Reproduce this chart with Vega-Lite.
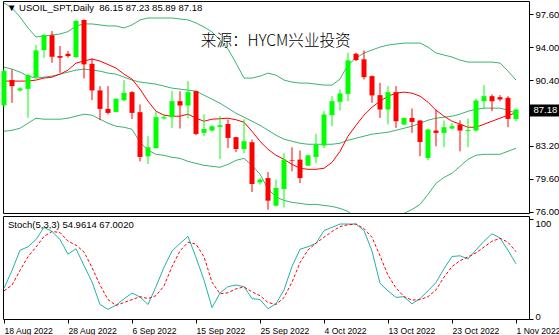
{
  "$schema": "https://vega.github.io/schema/vega-lite/v6.json",
  "padding": 0,
  "background": "#ffffff",
  "spacing": 3,
  "bounds": "flush",
  "title": {"text": "来源：HYCM兴业投资", "anchor": "middle", "frame": "bounds", "offset": -61, "baseline": "alphabetic", "dx": -8, "font": "Noto Sans CJK SC", "fontSize": 15.6, "fontWeight": 300, "color": "#000000"},
  "config": {
    "view": {"stroke": "#000000", "strokeWidth": 1},
    "axis": {"labelFont": "Liberation Sans", "labelFontSize": 9.5, "labelColor": "#000000", "tickColor": "#000000", "domain": false, "grid": false, "title": null, "labelOverlap": false},
    "title": {"font": "Liberation Sans", "fontSize": 9.5, "fontWeight": "normal", "color": "#000000", "anchor": "start", "frame": "group", "baseline": "alphabetic"}
  },
  "data": {"values": [
    {"d":"18 Aug 2022","i":0,"o":87.65,"h":91.6,"l":87.4,"c":91.38,"up":98.84,"mid":91.82,"lo":84.8,"ma":90.29,"k":30.6,"sig":28.0},
    {"d":"19 Aug 2022","i":1,"o":90.4,"h":91.57,"l":87.9,"c":89.74,"up":98.29,"mid":91.6,"lo":84.91,"ma":90.29,"k":48.3,"sig":33.8},
    {"d":"21 Aug 2022","i":2,"o":89.27,"h":89.63,"l":89.11,"c":89.49,"up":97.3,"mid":91.27,"lo":85.13,"ma":90.29,"k":68.4,"sig":48.3},
    {"d":"22 Aug 2022","i":3,"o":89.44,"h":91.09,"l":86.26,"c":90.94,"up":96.1,"mid":90.83,"lo":85.68,"ma":90.29,"k":71.9,"sig":61.9},
    {"d":"23 Aug 2022","i":4,"o":90.72,"h":94.23,"l":90.65,"c":93.65,"up":95.11,"mid":90.62,"lo":86.23,"ma":90.4,"k":79.0,"sig":71.6},
    {"d":"24 Aug 2022","i":5,"o":93.69,"h":95.47,"l":92.84,"c":95.33,"up":95.22,"mid":90.72,"lo":86.12,"ma":90.62,"k":91.2,"sig":82.2},
    {"d":"25 Aug 2022","i":6,"o":95.3,"h":95.77,"l":92.29,"c":92.95,"up":95.33,"mid":90.83,"lo":86.12,"ma":90.72,"k":87.1,"sig":87.1},
    {"d":"26 Aug 2022","i":7,"o":93.03,"h":94.12,"l":91.2,"c":92.84,"up":95.44,"mid":91.05,"lo":86.12,"ma":91.05,"k":79.0,"sig":86.1},
    {"d":"28 Aug 2022","i":8,"o":93.28,"h":93.58,"l":92.84,"c":93.03,"up":95.7,"mid":91.27,"lo":86.23,"ma":91.49,"k":64.5,"sig":77.4},
    {"d":"29 Aug 2022","i":9,"o":92.92,"h":96.97,"l":92.84,"c":96.87,"up":96.32,"mid":91.49,"lo":86.45,"ma":92.26,"k":69.9,"sig":73.5},
    {"d":"30 Aug 2022","i":10,"o":96.97,"h":97.05,"l":90.58,"c":92.12,"up":96.54,"mid":91.6,"lo":86.67,"ma":92.48,"k":53.2,"sig":66.7},
    {"d":"31 Aug 2022","i":11,"o":92.18,"h":92.78,"l":88.2,"c":89.27,"up":96.54,"mid":91.49,"lo":86.56,"ma":92.7,"k":37.0,"sig":51.2},
    {"d":"1 Sep 2022","i":12,"o":89.27,"h":89.74,"l":86.01,"c":87.25,"up":96.43,"mid":91.38,"lo":86.12,"ma":92.48,"k":14.5,"sig":33.8},
    {"d":"2 Sep 2022","i":13,"o":87.25,"h":89.74,"l":86.64,"c":86.81,"up":96.32,"mid":91.16,"lo":85.68,"ma":92.1,"k":9.6,"sig":19.3},
    {"d":"4 Sep 2022","i":14,"o":86.92,"h":88.39,"l":86.89,"c":88.35,"up":96.32,"mid":91.05,"lo":85.35,"ma":91.71,"k":13.8,"sig":13.5},
    {"d":"5 Sep 2022","i":15,"o":88.2,"h":90.4,"l":88.09,"c":89.0,"up":96.1,"mid":90.72,"lo":85.24,"ma":91.05,"k":20.0,"sig":16.4},
    {"d":"6 Sep 2022","i":16,"o":89.08,"h":89.19,"l":86.15,"c":86.81,"up":96.43,"mid":90.4,"lo":85.02,"ma":90.51,"k":25.8,"sig":19.3},
    {"d":"7 Sep 2022","i":17,"o":86.89,"h":87.73,"l":81.51,"c":81.99,"up":96.98,"mid":90.18,"lo":83.6,"ma":89.41,"k":21.9,"sig":22.2},
    {"d":"8 Sep 2022","i":18,"o":82.06,"h":84.26,"l":81.22,"c":83.05,"up":97.19,"mid":90.07,"lo":82.72,"ma":88.09,"k":14.5,"sig":20.3},
    {"d":"9 Sep 2022","i":19,"o":82.94,"h":87.0,"l":82.94,"c":86.34,"up":97.19,"mid":89.96,"lo":82.28,"ma":87.0,"k":32.2,"sig":23.2},
    {"d":"11 Sep 2022","i":20,"o":86.2,"h":86.7,"l":86.09,"c":86.34,"up":97.19,"mid":89.74,"lo":82.17,"ma":86.56,"k":51.5,"sig":32.9},
    {"d":"12 Sep 2022","i":21,"o":86.34,"h":89.19,"l":85.17,"c":88.09,"up":97.19,"mid":89.52,"lo":81.95,"ma":86.45,"k":67.7,"sig":52.2},
    {"d":"13 Sep 2022","i":22,"o":88.09,"h":89.19,"l":85.1,"c":87.62,"up":97.08,"mid":89.41,"lo":81.84,"ma":86.45,"k":75.2,"sig":67.7},
    {"d":"14 Sep 2022","i":23,"o":87.62,"h":90.29,"l":86.2,"c":89.08,"up":96.98,"mid":89.3,"lo":81.51,"ma":86.67,"k":82.2,"sig":76.4},
    {"d":"15 Sep 2022","i":24,"o":89.19,"h":89.24,"l":84.37,"c":84.51,"up":96.65,"mid":89.19,"lo":81.29,"ma":86.23,"k":61.2,"sig":74.5},
    {"d":"16 Sep 2022","i":25,"o":84.62,"h":86.64,"l":84.26,"c":85.06,"up":96.21,"mid":88.75,"lo":81.07,"ma":85.9,"k":38.7,"sig":61.9},
    {"d":"18 Sep 2022","i":26,"o":84.88,"h":85.46,"l":84.8,"c":85.35,"up":95.66,"mid":88.31,"lo":80.97,"ma":86.12,"k":11.3,"sig":36.7},
    {"d":"19 Sep 2022","i":27,"o":85.28,"h":86.45,"l":81.77,"c":85.46,"up":94.78,"mid":87.87,"lo":80.86,"ma":86.17,"k":25.8,"sig":25.1},
    {"d":"20 Sep 2022","i":28,"o":85.6,"h":86.09,"l":82.97,"c":84.07,"up":93.8,"mid":87.33,"lo":81.18,"ma":86.23,"k":32.2,"sig":26.1},
    {"d":"21 Sep 2022","i":29,"o":84.15,"h":84.2,"l":82.53,"c":82.86,"up":92.26,"mid":86.77,"lo":81.62,"ma":86.06,"k":33.8,"sig":30.0},
    {"d":"22 Sep 2022","i":30,"o":82.86,"h":86.09,"l":82.42,"c":83.71,"up":90.62,"mid":86.34,"lo":81.84,"ma":85.79,"k":32.2,"sig":31.9},
    {"d":"23 Sep 2022","i":31,"o":83.6,"h":83.89,"l":78.15,"c":79.03,"up":90.62,"mid":85.9,"lo":81.07,"ma":84.8,"k":20.3,"sig":27.0},
    {"d":"25 Sep 2022","i":32,"o":79.21,"h":79.68,"l":78.96,"c":79.51,"up":90.83,"mid":85.46,"lo":80.1,"ma":83.7,"k":19.3,"sig":23.2},
    {"d":"26 Sep 2022","i":33,"o":79.68,"h":80.34,"l":76.22,"c":77.21,"up":91.16,"mid":84.91,"lo":78.5,"ma":82.83,"k":10.3,"sig":16.4},
    {"d":"27 Sep 2022","i":34,"o":76.66,"h":79.51,"l":76.58,"c":78.59,"up":90.94,"mid":84.37,"lo":77.6,"ma":82.17,"k":15.1,"sig":14.5},
    {"d":"28 Sep 2022","i":35,"o":78.48,"h":82.42,"l":76.47,"c":81.7,"up":90.4,"mid":83.93,"lo":77.24,"ma":81.73,"k":29.0,"sig":21.3},
    {"d":"29 Sep 2022","i":36,"o":81.66,"h":83.05,"l":80.42,"c":81.59,"up":90.18,"mid":83.71,"lo":77.02,"ma":81.18,"k":52.2,"sig":36.7},
    {"d":"30 Sep 2022","i":37,"o":81.7,"h":82.69,"l":79.13,"c":79.68,"up":90.07,"mid":83.49,"lo":76.91,"ma":80.75,"k":69.4,"sig":56.1},
    {"d":"2 Oct 2022","i":38,"o":81.04,"h":82.2,"l":81.0,"c":82.17,"up":90.07,"mid":83.38,"lo":76.8,"ma":80.64,"k":71.9,"sig":68.7},
    {"d":"3 Oct 2022","i":39,"o":81.99,"h":84.51,"l":81.33,"c":83.35,"up":89.96,"mid":83.38,"lo":76.8,"ma":80.64,"k":75.2,"sig":75.5},
    {"d":"4 Oct 2022","i":40,"o":83.24,"h":87.0,"l":82.97,"c":86.64,"up":89.85,"mid":83.38,"lo":76.69,"ma":80.75,"k":88.0,"sig":81.3},
    {"d":"5 Oct 2022","i":41,"o":86.56,"h":88.64,"l":85.35,"c":88.09,"up":89.85,"mid":83.38,"lo":76.58,"ma":81.4,"k":91.2,"sig":87.1},
    {"d":"6 Oct 2022","i":42,"o":88.02,"h":89.38,"l":87.07,"c":88.94,"up":90.5,"mid":83.49,"lo":76.36,"ma":82.6,"k":94.5,"sig":91.9},
    {"d":"7 Oct 2022","i":43,"o":88.89,"h":93.39,"l":88.09,"c":92.56,"up":92.1,"mid":83.82,"lo":76.03,"ma":84.26,"k":94.5,"sig":93.8},
    {"d":"9 Oct 2022","i":44,"o":93.28,"h":93.39,"l":92.48,"c":92.59,"up":92.81,"mid":84.04,"lo":75.3,"ma":85.45,"k":94.5,"sig":94.5},
    {"d":"10 Oct 2022","i":45,"o":92.67,"h":93.65,"l":90.47,"c":90.72,"up":93.36,"mid":84.26,"lo":75.16,"ma":86.56,"k":88.0,"sig":90.0},
    {"d":"11 Oct 2022","i":46,"o":90.83,"h":90.9,"l":87.91,"c":88.72,"up":93.69,"mid":84.48,"lo":75.27,"ma":87.43,"k":67.7,"sig":81.3},
    {"d":"12 Oct 2022","i":47,"o":88.75,"h":90.1,"l":86.26,"c":87.18,"up":94.01,"mid":84.59,"lo":75.17,"ma":88.09,"k":35.5,"sig":62.9},
    {"d":"13 Oct 2022","i":48,"o":87.18,"h":89.74,"l":85.54,"c":89.08,"up":94.23,"mid":84.7,"lo":75.17,"ma":88.64,"k":28.0,"sig":43.5},
    {"d":"14 Oct 2022","i":49,"o":89.08,"h":89.74,"l":85.17,"c":85.9,"up":94.34,"mid":84.91,"lo":75.48,"ma":88.97,"k":21.5,"sig":30.9},
    {"d":"16 Oct 2022","i":50,"o":85.54,"h":86.3,"l":85.46,"c":86.26,"up":94.45,"mid":85.13,"lo":75.81,"ma":89.08,"k":22.2,"sig":22.2},
    {"d":"17 Oct 2022","i":51,"o":86.26,"h":87.29,"l":84.62,"c":85.82,"up":94.45,"mid":85.35,"lo":76.25,"ma":88.97,"k":15.1,"sig":18.8},
    {"d":"18 Oct 2022","i":52,"o":85.98,"h":86.0,"l":82.06,"c":83.63,"up":94.45,"mid":85.68,"lo":76.8,"ma":88.64,"k":20.3,"sig":19.3},
    {"d":"19 Oct 2022","i":53,"o":81.88,"h":85.1,"l":81.62,"c":84.99,"up":94.01,"mid":86.01,"lo":77.9,"ma":87.98,"k":28.0,"sig":22.2},
    {"d":"20 Oct 2022","i":54,"o":84.88,"h":87.18,"l":83.16,"c":84.62,"up":93.36,"mid":86.23,"lo":79.1,"ma":87.1,"k":36.4,"sig":29.0},
    {"d":"21 Oct 2022","i":55,"o":84.62,"h":85.98,"l":83.05,"c":85.24,"up":93.14,"mid":86.34,"lo":79.76,"ma":86.45,"k":50.0,"sig":41.6},
    {"d":"23 Oct 2022","i":56,"o":85.1,"h":85.71,"l":84.99,"c":85.35,"up":92.92,"mid":86.45,"lo":80.2,"ma":85.9,"k":62.2,"sig":52.2},
    {"d":"24 Oct 2022","i":57,"o":85.54,"h":86.0,"l":82.61,"c":84.88,"up":92.59,"mid":86.67,"lo":80.97,"ma":85.57,"k":62.9,"sig":58.0},
    {"d":"25 Oct 2022","i":58,"o":84.84,"h":86.2,"l":83.05,"c":84.95,"up":92.37,"mid":86.99,"lo":81.73,"ma":85.24,"k":59.7,"sig":61.9},
    {"d":"26 Oct 2022","i":59,"o":84.88,"h":88.39,"l":84.8,"c":88.17,"up":92.37,"mid":87.21,"lo":82.17,"ma":85.24,"k":68.7,"sig":65.8},
    {"d":"27 Oct 2022","i":60,"o":88.09,"h":89.85,"l":87.29,"c":88.64,"up":92.37,"mid":87.33,"lo":82.28,"ma":85.57,"k":77.4,"sig":71.6},
    {"d":"28 Oct 2022","i":61,"o":88.64,"h":88.83,"l":87.0,"c":88.09,"up":92.37,"mid":87.33,"lo":82.28,"ma":85.9,"k":84.8,"sig":77.4},
    {"d":"30 Oct 2022","i":62,"o":88.53,"h":88.75,"l":88.09,"c":88.28,"up":92.26,"mid":87.33,"lo":82.28,"ma":86.23,"k":80.6,"sig":80.3},
    {"d":"31 Oct 2022","i":63,"o":88.46,"h":88.64,"l":85.24,"c":86.15,"up":91.38,"mid":87.1,"lo":82.61,"ma":86.56,"k":68.4,"sig":76.4},
    {"d":"1 Nov 2022","i":64,"o":86.15,"h":87.23,"l":85.89,"c":87.18,"up":90.4,"mid":86.78,"lo":82.94,"ma":86.78,"k":54.96,"sig":67.0}
  ]},
  "vconcat": [
    {
      "width": 526,
      "height": 212,
      "title": {"text": "▼ USOIL_SPT,Daily\u00a0 86.15 87.23 85.89 87.18", "offset": -11, "dx": 4},
      "resolve": {"axis": {"y": "independent"}},
      "encoding": {
        "x": {"field": "d", "type": "ordinal", "sort": null, "scale": {"type": "point", "padding": 0.875, "align": 0.0714}, "axis": null}
      },
      "layer": [
        {
          "transform": [{"fold": ["up", "mid", "lo"], "as": ["band", "val"]}],
          "mark": {"type": "line", "color": "#3CB371", "strokeWidth": 1, "clip": true},
          "encoding": {
            "y": {"field": "val", "type": "quantitative", "title": null,
              "scale": {"domain": [75.86, 99.05], "nice": false, "zero": false},
              "axis": {"orient": "right", "values": [76, 79.6, 83.2, 90.4, 94, 97.6], "format": ".2f", "labelOverlap": false, "tickSize": 4, "labelPadding": 2}},
            "detail": {"field": "band"},
            "order": {"field": "i", "type": "quantitative"}
          }
        },
        {
          "mark": {"type": "line", "color": "#FF0000", "strokeWidth": 1, "clip": true},
          "encoding": {
            "y": {"field": "ma", "type": "quantitative", "axis": null},
            "order": {"field": "i", "type": "quantitative"}
          }
        },
        {
          "mark": {"type": "rule", "strokeWidth": 1},
          "encoding": {
            "y": {"field": "l", "type": "quantitative", "axis": null},
            "y2": {"field": "h"},
            "color": {"condition": {"test": "datum.c >= datum.o", "value": "#00FF00"}, "value": "#FF0000"}
          }
        },
        {
          "mark": {"type": "bar", "size": 5},
          "encoding": {
            "y": {"field": "o", "type": "quantitative", "axis": null},
            "y2": {"field": "c"},
            "color": {"condition": {"test": "datum.c >= datum.o", "value": "#00FF00"}, "value": "#FF0000"}
          }
        },
        {
          "transform": [{"filter": "datum.i == 64"}],
          "mark": {"type": "point", "opacity": 0},
          "encoding": {
            "y": {"field": "c", "type": "quantitative", "title": null,
              "axis": {"orient": "right", "values": [87.18], "format": ".2f", "labelOverlap": false,
                "tickSize": 31, "tickWidth": 12, "tickColor": "#000000", "labelPadding": -27, "labelColor": "#ffffff"}}
          }
        }
      ]
    },
    {
      "width": 526,
      "height": 103,
      "title": {"text": "Stoch(5,3,3) 54.9614 67.0020", "offset": -13, "dx": 5},
      "encoding": {
        "x": {"field": "d", "type": "ordinal", "sort": null, "scale": {"type": "point", "padding": 0.875, "align": 0.0714},
          "axis": {"values": ["18 Aug 2022", "28 Aug 2022", "6 Sep 2022", "15 Sep 2022", "25 Sep 2022", "4 Oct 2022", "13 Oct 2022", "23 Oct 2022", "1 Nov 2022"],
            "labelAngle": 0, "labelAlign": "left", "labelBaseline": "top", "labelPadding": 3, "tickSize": 4, "labelFontSize": 8.6, "labelOverlap": false, "title": null}}
      },
      "layer": [
        {
          "mark": {"type": "line", "color": "#20B2AA", "strokeWidth": 1},
          "encoding": {
            "y": {"field": "k", "type": "quantitative", "title": null,
              "scale": {"domain": [0, 102.5], "nice": false, "zero": false},
              "axis": {"orient": "right", "values": [0, 20, 80, 100], "format": "d", "tickSize": 4, "labelPadding": 2,
                "labelBaseline": {"condition": {"test": "datum.value == 100", "value": "top"}, "value": {"condition": {"test": "datum.value == 0", "value": "bottom"}, "value": "middle"}},
                "grid": true, "gridColor": "#C0C0C0", "gridDash": [4, 3],
                "gridOpacity": {"condition": {"test": "datum.value == 20 || datum.value == 80", "value": 1}, "value": 0}}},
            "order": {"field": "i", "type": "quantitative"}
          }
        },
        {
          "mark": {"type": "line", "color": "#FF0000", "strokeWidth": 1, "strokeDash": [3, 2]},
          "encoding": {
            "y": {"field": "sig", "type": "quantitative", "title": null},
            "order": {"field": "i", "type": "quantitative"}
          }
        }
      ]
    }
  ]
}
